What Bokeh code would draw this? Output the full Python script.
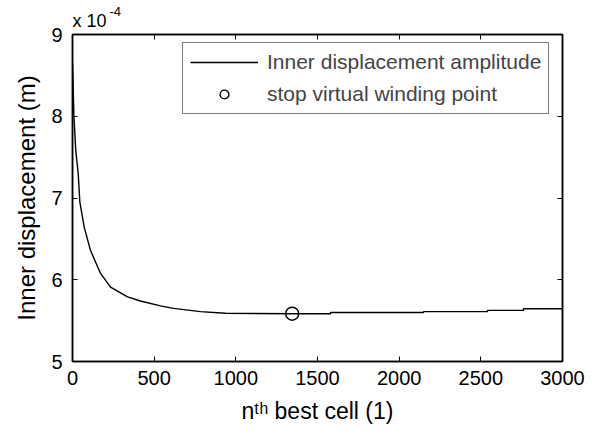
from bokeh.plotting import figure
from bokeh.models import (Range1d, LinearAxis, FixedTicker, Legend, LegendItem, Title,
                          ColumnDataSource, CustomJSTickFormatter)
from bokeh.embed import file_html
from bokeh.resources import INLINE

# ---- data (amplitude in units of 1e-4 m) ----
SCALE = 1e-4
cells = [0, 3, 8, 20, 35, 45, 72, 110, 171, 233, 337, 416, 539, 618, 784, 937, 1345,
         1580, 1580, 2149, 2149, 2541, 2541, 2761, 2761, 3000]
amp = [8.65, 8.45, 8.03, 7.58, 7.30, 6.95, 6.64, 6.36, 6.08, 5.91, 5.79, 5.74, 5.68, 5.65,
       5.61, 5.59, 5.585, 5.585, 5.60, 5.60, 5.61, 5.61, 5.625, 5.625, 5.645, 5.645]
stop_cell = [1345]
stop_amp = [5.585]
x_ticks = [0, 500, 1000, 1500, 2000, 2500, 3000]
y_ticks = [5, 6, 7, 8, 9]

FONT = "Liberation Sans"
TICK_FS = "20px"
LEG_FS = "21px"

src = ColumnDataSource(dict(x=cells, y=[v * SCALE for v in amp]))
stop_src = ColumnDataSource(dict(x=stop_cell, y=[v * SCALE for v in stop_amp]))

p = figure(width=592, height=436, output_backend="svg", toolbar_location=None,
           x_range=Range1d(0, 3000), y_range=Range1d(5 * SCALE, 9 * SCALE),
           min_border_left=72, min_border_right=30, min_border_top=34, min_border_bottom=75,
           x_axis_location=None, y_axis_location=None)
p.title = None
p.background_fill_color = "white"
p.border_fill_color = "white"
p.outline_line_color = "black"
p.outline_line_width = 1.5
p.xgrid.visible = False
p.ygrid.visible = False

xt = FixedTicker(ticks=x_ticks, minor_ticks=[])
yt = FixedTicker(ticks=[v * SCALE for v in y_ticks], minor_ticks=[])
blank = CustomJSTickFormatter(code="return '';")


def style(ax, label_fs="22px"):
    ax.axis_line_color = "black"
    ax.axis_line_width = 1.5
    ax.major_tick_in = 5
    ax.major_tick_out = 0
    ax.minor_tick_line_color = None
    ax.major_tick_line_color = "black"
    ax.major_label_text_font = FONT
    ax.major_label_text_font_size = TICK_FS
    ax.major_label_text_color = "black"
    ax.axis_label_text_font = FONT
    ax.axis_label_text_font_size = label_fs
    ax.axis_label_text_font_style = "normal"
    ax.axis_label_text_color = "black"


xb = LinearAxis(ticker=xt, axis_label="n\u1d57\u02b0 best cell (1)")
style(xb, "23px")
xb.major_label_standoff = 9
xb.axis_label_standoff = 10
p.add_layout(xb, "below")

yl = LinearAxis(ticker=yt, formatter=CustomJSTickFormatter(code="return (tick*1e4).toFixed(0);"),
                axis_label="Inner displacement (m)")
style(yl, "24px")
yl.major_label_standoff = 10
yl.axis_label_standoff = 8
p.add_layout(yl, "left")

xa = LinearAxis(ticker=xt, formatter=blank)
style(xa)
xa.major_label_text_font_size = "0px"
xa.major_label_standoff = 0
p.add_layout(xa, "above")

yr = LinearAxis(ticker=yt, formatter=blank)
style(yr)
yr.major_label_text_font_size = "0px"
yr.major_label_standoff = 0
p.add_layout(yr, "right")

# exponent "x 10^-4" at the top left of the axes
t_main = Title(text="x 10", align="left", offset=0, standoff=8,
               text_font=FONT, text_font_size="18px", text_font_style="normal",
               text_color="black")
t_sup = Title(text="-4", align="left", offset=37, standoff=-22,
              text_font=FONT, text_font_size="13px", text_font_style="normal",
              text_color="black")
p.add_layout(t_main, "above")
p.add_layout(t_sup, "above")

line = p.line("x", "y", source=src, line_color="black", line_width=1.4)
pt = p.scatter("x", "y", source=stop_src, marker="circle", size=13, fill_color=None,
               line_color="black", line_width=1.4)

legend = Legend(items=[LegendItem(label="Inner displacement amplitude", renderers=[line]),
                       LegendItem(label="stop virtual winding point", renderers=[pt])],
                location=(110, 247))
legend.border_line_color = "black"
legend.border_line_width = 1.5
legend.background_fill_alpha = 1.0
legend.label_text_font = FONT
legend.label_text_font_size = LEG_FS
legend.glyph_width = 68
legend.glyph_height = 22
legend.label_height = 22
legend.spacing = 8
legend.padding = 7
legend.margin = 0
legend.label_standoff = 9
p.add_layout(legend)

open("out.html", "w").write(file_html(p, INLINE))
